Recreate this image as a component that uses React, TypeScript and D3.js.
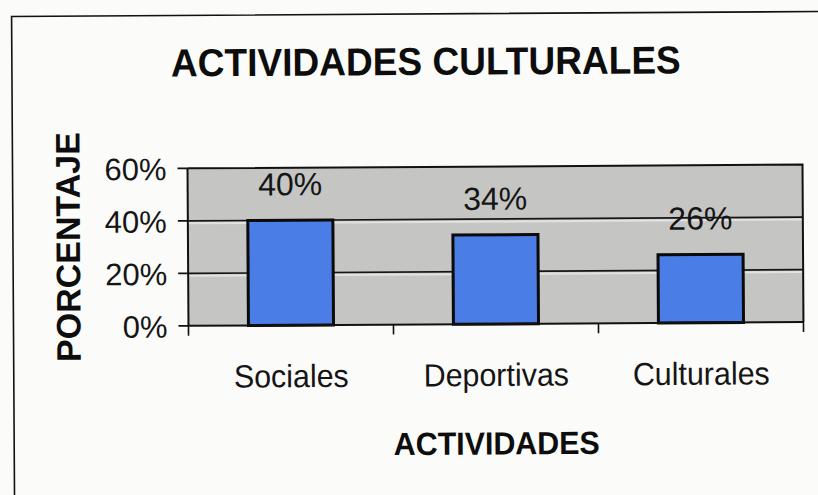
import { useEffect, useRef } from "react";
import { select, scaleBand, scaleLinear, format } from "d3";

const categories = ["Sociales", "Deportivas", "Culturales"];
const values = [0.4, 0.34, 0.26];
const yTicks = [0, 0.2, 0.4, 0.6];
const title = "ACTIVIDADES CULTURALES";
const xTitle = "ACTIVIDADES";
const yTitle = "PORCENTAJE";

const W = 818;
const H = 495;
const FONT = "'Liberation Sans', Arial, Helvetica, sans-serif";

export default function App() {
  const svgRef = useRef<SVGSVGElement>(null);

  useEffect(() => {
    const svg = svgRef.current;
    if (svg === null) return;
    const root = select(svg);
    root.selectAll("*").remove();

    root.append("rect").attr("width", W).attr("height", H).attr("fill", "#fbfbfa");

    // whole scan is tilted a little
    const g = root.append("g").attr("transform", `rotate(-0.35, ${W / 2}, ${H / 2})`);

    // outer chart frame (only top + left visible)
    g.append("path")
      .attr("d", `M13,${H + 10} L13,14 L${W + 10},14`)
      .attr("fill", "none")
      .attr("stroke", "#111")
      .attr("stroke-width", 1.6);

    const plot = { left: 188, right: 803, top: 167, bottom: 324.5 };

    const x = scaleBand<string>()
      .domain(categories)
      .range([plot.left, plot.right])
      .paddingInner(0.585)
      .paddingOuter(0.2925);
    const xCat = scaleBand<string>().domain(categories).range([plot.left, plot.right]).padding(0);
    const y = scaleLinear().domain([0, 0.6]).range([plot.bottom, plot.top]);
    const pct = format(".0%");

    // plot area
    g.append("rect")
      .attr("x", plot.left)
      .attr("y", plot.top)
      .attr("width", plot.right - plot.left)
      .attr("height", plot.bottom - plot.top)
      .attr("fill", "#c5c5c4");

    // light streaks under the gridlines
    g.selectAll("line.hl")
      .data(yTicks.filter(t => t > 0 && t < 0.6))
      .join("line")
      .attr("class", "hl")
      .attr("x1", plot.left)
      .attr("x2", plot.right)
      .attr("y1", d => y(d) + 2.5)
      .attr("y2", d => y(d) + 2.5)
      .attr("stroke", "#e2e2e2")
      .attr("stroke-width", 2);

    g.selectAll("line.grid")
      .data(yTicks.filter(t => t > 0 && t < 0.6))
      .join("line")
      .attr("class", "grid")
      .attr("x1", plot.left)
      .attr("x2", plot.right)
      .attr("y1", d => y(d))
      .attr("y2", d => y(d))
      .attr("stroke", "#151515")
      .attr("stroke-width", 1.6);

    // top + right border of plot
    g.append("path")
      .attr("d", `M${plot.left},${plot.top} L${plot.right},${plot.top} L${plot.right},${plot.bottom}`)
      .attr("fill", "none")
      .attr("stroke", "#111")
      .attr("stroke-width", 2);

    // bars
    g.selectAll("rect.bar")
      .data(values)
      .join("rect")
      .attr("class", "bar")
      .attr("x", (_, i) => x(categories[i])!)
      .attr("y", d => y(d))
      .attr("width", x.bandwidth())
      .attr("height", d => y(0) - y(d))
      .attr("fill", "#4b7de6")
      .attr("stroke", "#0a0a0a")
      .attr("stroke-width", 3);

    // data labels
    g.selectAll("text.val")
      .data(values)
      .join("text")
      .attr("class", "val")
      .attr("x", (_, i) => x(categories[i])! + x.bandwidth() / 2)
      .attr("y", d => y(d) - 25)
      .attr("text-anchor", "middle")
      .attr("font-family", FONT)
      .attr("font-size", 32)
      .attr("fill", "#151515")
      .text(d => pct(d));

    // y axis
    g.append("line")
      .attr("x1", plot.left).attr("x2", plot.left)
      .attr("y1", plot.top).attr("y2", plot.bottom)
      .attr("stroke", "#111").attr("stroke-width", 2);
    g.selectAll("line.ytick")
      .data(yTicks)
      .join("line")
      .attr("class", "ytick")
      .attr("x1", plot.left - 10).attr("x2", plot.left)
      .attr("y1", d => y(d)).attr("y2", d => y(d))
      .attr("stroke", "#111").attr("stroke-width", 1.6);
    g.selectAll("text.ylab")
      .data(yTicks)
      .join("text")
      .attr("class", "ylab")
      .attr("x", plot.left - 21)
      .attr("y", d => y(d) + 11.5)
      .attr("text-anchor", "end")
      .attr("font-family", FONT)
      .attr("font-size", 31)
      .attr("fill", "#151515")
      .text(d => pct(d));

    // x axis
    g.append("line")
      .attr("x1", plot.left).attr("x2", plot.right)
      .attr("y1", plot.bottom).attr("y2", plot.bottom)
      .attr("stroke", "#111").attr("stroke-width", 2);
    const bounds = [...categories.map(c => xCat(c)!), plot.right];
    g.selectAll("line.xtick")
      .data(bounds)
      .join("line")
      .attr("class", "xtick")
      .attr("x1", d => d).attr("x2", d => d)
      .attr("y1", plot.bottom).attr("y2", plot.bottom + 10)
      .attr("stroke", "#111").attr("stroke-width", 1.6);
    const xl = g.selectAll("text.xlab")
      .data(categories)
      .join("text")
      .attr("class", "xlab")
      .attr("x", d => xCat(d)! + xCat.bandwidth() / 2)
      .attr("y", plot.bottom + 62)
      .attr("text-anchor", "middle")
      .attr("font-family", FONT)
      .attr("font-size", 32)
      .attr("fill", "#151515")
      .text(d => d);

    // titles
    const t = g.append("text")
      .attr("x", 427)
      .attr("y", 75)
      .attr("text-anchor", "middle")
      .attr("font-family", FONT)
      .attr("font-weight", "bold")
      .attr("font-size", 39)
      .attr("fill", "#0d0d0d")
      .text(title);
    const xt = g.append("text")
      .attr("x", (plot.left + plot.right) / 2)
      .attr("y", 455)
      .attr("text-anchor", "middle")
      .attr("font-family", FONT)
      .attr("font-weight", "bold")
      .attr("font-size", 32)
      .attr("fill", "#0d0d0d")
      .text(xTitle);
    g.append("text")
      .attr("transform", "translate(80, 245) rotate(-90)")
      .attr("text-anchor", "middle")
      .attr("font-family", FONT)
      .attr("font-weight", "bold")
      .attr("font-size", 34)
      .attr("fill", "#0d0d0d")
      .text(yTitle);

    // the printed fonts look a bit condensed
    const squeeze = (sel: any, k: number) =>
      sel.each(function (this: SVGTextElement) {
        const len = this.getComputedTextLength();
        select(this).attr("textLength", len * k).attr("lengthAdjust", "spacingAndGlyphs");
      });
    squeeze(t, 0.95);
    squeeze(xt, 0.95);
    squeeze(xl, 0.95);
  }, []);

  return (
    <svg
      ref={svgRef}
      width={W}
      height={H}
      style={{ position: "absolute", left: 0, top: 0, display: "block" }}
    />
  );
}
